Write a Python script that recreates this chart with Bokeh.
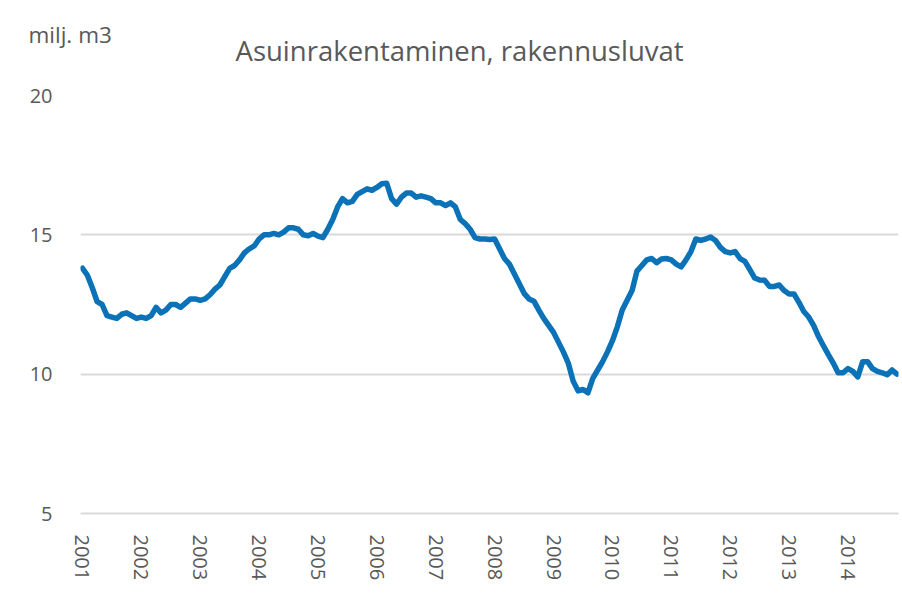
import math
from bokeh.plotting import figure
from bokeh.models import Title, FixedTicker, ColumnDataSource
from bokeh.embed import file_html
from bokeh.resources import INLINE

# Monthly values (milj. m3), Jan 2001 .. Nov 2014
v2001 = [13.8, 13.55, 13.1, 12.6, 12.5, 12.1, 12.05, 12.0, 12.15, 12.2, 12.1, 12.0]
v2002 = [12.05, 12.0, 12.1, 12.4, 12.2, 12.3, 12.5, 12.5, 12.4, 12.55, 12.7, 12.7]
v2003 = [12.65, 12.7, 12.85, 13.05, 13.2, 13.5, 13.8, 13.9, 14.1, 14.35, 14.5, 14.6]
v2004 = [14.85, 15.0, 15.0, 15.05, 15.0, 15.1, 15.25, 15.25, 15.2, 15.0, 14.97, 15.05]
v2005 = [14.95, 14.9, 15.2, 15.55, 16.0, 16.3, 16.15, 16.2, 16.45, 16.55, 16.65, 16.6]
v2006 = [16.7, 16.83, 16.85, 16.3, 16.1, 16.35, 16.5, 16.5, 16.35, 16.4, 16.35, 16.3]
v2007 = [16.15, 16.15, 16.05, 16.15, 16.0, 15.55, 15.4, 15.2, 14.9, 14.85, 14.85, 14.83]
v2008 = [14.85, 14.5, 14.15, 13.95, 13.6, 13.25, 12.9, 12.7, 12.62, 12.3, 12.0, 11.75]
v2009 = [11.5, 11.15, 10.8, 10.4, 9.75, 9.4, 9.45, 9.33, 9.85, 10.15, 10.45, 10.8]
v2010 = [11.2, 11.7, 12.3, 12.65, 13.0, 13.7, 13.9, 14.1, 14.15, 14.0, 14.13, 14.15]
v2011 = [14.1, 13.95, 13.85, 14.1, 14.4, 14.85, 14.8, 14.85, 14.92, 14.8, 14.55, 14.4]
v2012 = [14.35, 14.4, 14.15, 14.05, 13.75, 13.45, 13.38, 13.37, 13.15, 13.15, 13.2, 13.0]
v2013 = [12.88, 12.88, 12.58, 12.25, 12.05, 11.75, 11.35, 11.02, 10.7, 10.4, 10.05, 10.05]
v2014 = [10.2, 10.1, 9.9, 10.45, 10.45, 10.2, 10.1, 10.05, 9.98, 10.15, 10.0]

years = [str(y) for y in range(2001, 2015)]
y_ticks = [5, 10, 15, 20]

values = (v2001 + v2002 + v2003 + v2004 + v2005 + v2006 + v2007 + v2008 +
          v2009 + v2010 + v2011 + v2012 + v2013 + v2014)
months = list(range(len(values)))
src = ColumnDataSource(dict(m=months, v=values))

FONT = "Open Sans"
GREY = "#595959"
GRID = "#d9d9d9"

W, H = 900, 613
LEFT, TOP, BOTTOM, RIGHT = 80, 95, 100, 2
p = figure(width=W, height=H, output_backend="svg", toolbar_location=None,
           x_range=(-0.4, 166.3), y_range=(5, 20),
           min_border_left=LEFT, min_border_right=RIGHT, min_border_top=TOP,
           min_border_bottom=BOTTOM)
p.outline_line_color = None
p.background_fill_color = "white"

p.line("m", "v", source=src, line_color="#0b72b8", line_width=5.5,
       line_join="round", line_cap="round")

# x axis
p.xaxis.ticker = FixedTicker(ticks=[12 * i for i in range(len(years))])
p.xaxis.major_label_overrides = {12 * i: y for i, y in enumerate(years)}
p.xaxis.major_label_orientation = -math.pi / 2
p.xaxis.major_tick_line_color = None
p.xaxis.minor_tick_line_color = None
p.xaxis.axis_line_color = GRID
p.xaxis.axis_line_width = 2
p.xaxis.major_label_standoff = 15
p.xaxis.major_label_text_font = FONT
p.xaxis.major_label_text_font_size = "20px"
p.xaxis.major_label_text_color = GREY
p.xgrid.grid_line_color = None

# y axis
p.yaxis.ticker = FixedTicker(ticks=y_ticks)
p.yaxis.major_tick_line_color = None
p.yaxis.minor_tick_line_color = None
p.yaxis.axis_line_color = None
p.yaxis.major_label_standoff = 22
p.yaxis.major_label_text_font = FONT
p.yaxis.major_label_text_font_size = "20px"
p.yaxis.major_label_text_color = GREY
p.ygrid.grid_line_color = GRID
p.ygrid.grid_line_width = 2

# titles
t_main = Title(text="Asuinrakentaminen, rakennusluvat", align="left", offset=155,
               text_font=FONT, text_font_size="27.5px", text_color=GREY,
               text_font_style="normal", standoff=54)
t_unit = Title(text="milj. m3", align="left", offset=-52,
               text_font=FONT, text_font_size="22.5px", text_color=GREY,
               text_font_style="normal", standoff=-94)
p.add_layout(t_main, "above")
p.add_layout(t_unit, "above")

open("out.html", "w").write(file_html(p, INLINE))
